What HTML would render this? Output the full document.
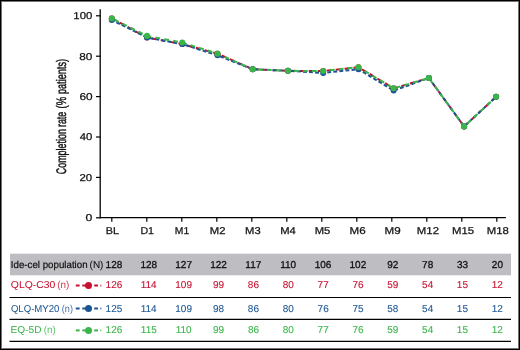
<!DOCTYPE html><html><head><meta charset="utf-8"><style>
html,body{margin:0;padding:0;background:#fff}
body{width:520px;height:350px;overflow:hidden;position:relative}
svg{position:absolute;left:0;top:0;will-change:transform}
text{font-family:"Liberation Sans",sans-serif;paint-order:stroke}
</style></head><body>
<svg width="520" height="350" viewBox="0 0 520 350">
<rect x="0" y="0" width="520" height="350" fill="#fff"/>

<line x1="100.2" y1="9.3" x2="100.2" y2="218.3" stroke="#000" stroke-width="1.3"/>
<line x1="99.5" y1="217.6" x2="505.9" y2="217.6" stroke="#000" stroke-width="1.3"/>
<line x1="96" y1="217.80" x2="100.5" y2="217.80" stroke="#000" stroke-width="1.2"/>
<text x="85.59" y="221.30" font-size="10.0" fill="#111111" stroke="#111111" textLength="6.79" lengthAdjust="spacingAndGlyphs" stroke-width="0.25" transform="matrix(1,0,0.0006,1.0,-0.1328,0.000)">0</text>
<line x1="96" y1="177.40" x2="100.5" y2="177.40" stroke="#000" stroke-width="1.2"/>
<text x="79.43" y="180.90" font-size="10.0" fill="#111111" stroke="#111111" textLength="12.70" lengthAdjust="spacingAndGlyphs" stroke-width="0.25" transform="matrix(1,0,0.0006,1.0,-0.1085,0.000)">20</text>
<line x1="96" y1="137.00" x2="100.5" y2="137.00" stroke="#000" stroke-width="1.2"/>
<text x="79.82" y="140.50" font-size="10.0" fill="#111111" stroke="#111111" textLength="12.61" lengthAdjust="spacingAndGlyphs" stroke-width="0.25" transform="matrix(1,0,0.0006,1.0,-0.0843,0.000)">40</text>
<line x1="96" y1="96.60" x2="100.5" y2="96.60" stroke="#000" stroke-width="1.2"/>
<text x="79.51" y="100.10" font-size="10.0" fill="#111111" stroke="#111111" textLength="13.13" lengthAdjust="spacingAndGlyphs" stroke-width="0.25" transform="matrix(1,0,0.0006,1.0,-0.0601,0.000)">60</text>
<line x1="96" y1="56.20" x2="100.5" y2="56.20" stroke="#000" stroke-width="1.2"/>
<text x="79.31" y="59.70" font-size="10.0" fill="#111111" stroke="#111111" textLength="13.13" lengthAdjust="spacingAndGlyphs" stroke-width="0.25" transform="matrix(1,0,0.0006,1.0,-0.0358,0.000)">80</text>
<line x1="96" y1="15.80" x2="100.5" y2="15.80" stroke="#000" stroke-width="1.2"/>
<text x="73.35" y="19.30" font-size="10.0" fill="#111111" stroke="#111111" textLength="18.95" lengthAdjust="spacingAndGlyphs" stroke-width="0.25" transform="matrix(1,0,0.0006,1.0,-0.0116,0.000)">100</text>
<line x1="111.80" y1="217.6" x2="111.80" y2="221.8" stroke="#000" stroke-width="1.2"/>
<text x="105.89" y="234.10" font-size="10.0" fill="#111111" stroke="#111111" textLength="13.27" lengthAdjust="spacingAndGlyphs" stroke-width="0.25" transform="matrix(1,0,0.0006,1.0,-0.1405,0.000)">BL</text>
<line x1="146.80" y1="217.6" x2="146.80" y2="221.8" stroke="#000" stroke-width="1.2"/>
<text x="140.40" y="234.10" font-size="10.0" fill="#111111" stroke="#111111" textLength="13.58" lengthAdjust="spacingAndGlyphs" stroke-width="0.25" transform="matrix(1,0,0.0006,1.0,-0.1405,0.000)">D1</text>
<line x1="181.80" y1="217.6" x2="181.80" y2="221.8" stroke="#000" stroke-width="1.2"/>
<text x="174.82" y="234.10" font-size="10.0" fill="#111111" stroke="#111111" textLength="14.40" lengthAdjust="spacingAndGlyphs" stroke-width="0.25" transform="matrix(1,0,0.0006,1.0,-0.1405,0.000)">M1</text>
<line x1="216.80" y1="217.6" x2="216.80" y2="221.8" stroke="#000" stroke-width="1.2"/>
<text x="209.75" y="234.10" font-size="10.0" fill="#111111" stroke="#111111" textLength="15.71" lengthAdjust="spacingAndGlyphs" stroke-width="0.25" transform="matrix(1,0,0.0006,1.0,-0.1405,0.000)">M2</text>
<line x1="251.80" y1="217.6" x2="251.80" y2="221.8" stroke="#000" stroke-width="1.2"/>
<text x="245.06" y="234.10" font-size="10.0" fill="#111111" stroke="#111111" textLength="15.60" lengthAdjust="spacingAndGlyphs" stroke-width="0.25" transform="matrix(1,0,0.0006,1.0,-0.1405,0.000)">M3</text>
<line x1="286.80" y1="217.6" x2="286.80" y2="221.8" stroke="#000" stroke-width="1.2"/>
<text x="280.16" y="234.10" font-size="10.0" fill="#111111" stroke="#111111" textLength="15.60" lengthAdjust="spacingAndGlyphs" stroke-width="0.25" transform="matrix(1,0,0.0006,1.0,-0.1405,0.000)">M4</text>
<line x1="321.80" y1="217.6" x2="321.80" y2="221.8" stroke="#000" stroke-width="1.2"/>
<text x="314.66" y="234.10" font-size="10.0" fill="#111111" stroke="#111111" textLength="15.60" lengthAdjust="spacingAndGlyphs" stroke-width="0.25" transform="matrix(1,0,0.0006,1.0,-0.1405,0.000)">M5</text>
<line x1="356.80" y1="217.6" x2="356.80" y2="221.8" stroke="#000" stroke-width="1.2"/>
<text x="349.63" y="234.10" font-size="10.0" fill="#111111" stroke="#111111" textLength="16.14" lengthAdjust="spacingAndGlyphs" stroke-width="0.25" transform="matrix(1,0,0.0006,1.0,-0.1405,0.000)">M6</text>
<line x1="391.80" y1="217.6" x2="391.80" y2="221.8" stroke="#000" stroke-width="1.2"/>
<text x="384.53" y="234.10" font-size="10.0" fill="#111111" stroke="#111111" textLength="16.14" lengthAdjust="spacingAndGlyphs" stroke-width="0.25" transform="matrix(1,0,0.0006,1.0,-0.1405,0.000)">M9</text>
<line x1="426.80" y1="217.6" x2="426.80" y2="221.8" stroke="#000" stroke-width="1.2"/>
<text x="416.85" y="234.10" font-size="10.0" fill="#111111" stroke="#111111" textLength="22.17" lengthAdjust="spacingAndGlyphs" stroke-width="0.25" transform="matrix(1,0,0.0006,1.0,-0.1405,0.000)">M12</text>
<line x1="461.80" y1="217.6" x2="461.80" y2="221.8" stroke="#000" stroke-width="1.2"/>
<text x="451.95" y="234.10" font-size="10.0" fill="#111111" stroke="#111111" textLength="22.06" lengthAdjust="spacingAndGlyphs" stroke-width="0.25" transform="matrix(1,0,0.0006,1.0,-0.1405,0.000)">M15</text>
<line x1="496.80" y1="217.6" x2="496.80" y2="221.8" stroke="#000" stroke-width="1.2"/>
<text x="486.75" y="234.10" font-size="10.0" fill="#111111" stroke="#111111" textLength="22.06" lengthAdjust="spacingAndGlyphs" stroke-width="0.25" transform="matrix(1,0,0.0006,1.0,-0.1405,0.000)">M18</text>
<text transform="translate(66,174.29) rotate(-90) skewX(0.04)" x="0" y="0" font-size="13.8" fill="#111111" stroke="#111111" stroke-width="0.45" textLength="45.20" lengthAdjust="spacingAndGlyphs">Completion</text>
<text transform="translate(66,127.04) rotate(-90) skewX(0.04)" x="0" y="0" font-size="13.8" fill="#111111" stroke="#111111" stroke-width="0.45" textLength="15.18" lengthAdjust="spacingAndGlyphs">rate</text>
<text transform="translate(66,108.51) rotate(-90) skewX(0.04)" x="0" y="0" font-size="13.8" fill="#111111" stroke="#111111" stroke-width="0.45" textLength="11.57" lengthAdjust="spacingAndGlyphs">(%</text>
<text transform="translate(66,94.06) rotate(-90) skewX(0.04)" x="0" y="0" font-size="13.8" fill="#111111" stroke="#111111" stroke-width="0.45" textLength="35.07" lengthAdjust="spacingAndGlyphs">patients)</text>
<path d="M111.80,18.39 L147.03,37.51 L182.26,44.11 L217.49,53.66 L252.72,69.25 L287.95,70.84 L323.18,71.01 L358.41,67.20 L393.64,88.37 L428.87,77.97 L464.10,126.47 L496.10,96.80" fill="none" stroke="#c8102e" stroke-width="2" stroke-dasharray="4.8 4.2" stroke-dashoffset="0"/>
<path d="M111.80,19.98 L147.03,37.51 L182.26,44.11 L217.49,55.33 L252.72,69.25 L287.95,70.84 L323.18,72.94 L358.41,69.20 L393.64,90.59 L428.87,77.97 L464.10,126.47 L496.10,96.80" fill="none" stroke="#1b5592" stroke-width="2" stroke-dasharray="3.9 2.2" stroke-dashoffset="1.0"/>
<path d="M111.80,18.39 L147.03,35.92 L182.26,42.51 L217.49,53.66 L252.72,69.25 L287.95,70.84 L323.18,71.01 L358.41,67.20 L393.64,88.37 L428.87,77.97 L464.10,126.47 L496.10,96.80" fill="none" stroke="#3ab54a" stroke-width="2" stroke-dasharray="4.8 4.2" stroke-dashoffset="-2.9"/>
<circle cx="111.80" cy="18.39" r="3.0" fill="#c8102e"/><circle cx="147.03" cy="37.51" r="3.0" fill="#c8102e"/><circle cx="182.26" cy="44.11" r="3.0" fill="#c8102e"/><circle cx="217.49" cy="53.66" r="3.0" fill="#c8102e"/><circle cx="252.72" cy="69.25" r="3.0" fill="#c8102e"/><circle cx="287.95" cy="70.84" r="3.0" fill="#c8102e"/><circle cx="323.18" cy="71.01" r="3.0" fill="#c8102e"/><circle cx="358.41" cy="67.20" r="3.0" fill="#c8102e"/><circle cx="393.64" cy="88.37" r="3.0" fill="#c8102e"/><circle cx="428.87" cy="77.97" r="3.0" fill="#c8102e"/><circle cx="464.10" cy="126.47" r="3.0" fill="#c8102e"/><circle cx="496.10" cy="96.80" r="3.0" fill="#c8102e"/>
<circle cx="111.80" cy="19.98" r="3.0" fill="#1b5592"/><circle cx="147.03" cy="37.51" r="3.0" fill="#1b5592"/><circle cx="182.26" cy="44.11" r="3.0" fill="#1b5592"/><circle cx="217.49" cy="55.33" r="3.0" fill="#1b5592"/><circle cx="252.72" cy="69.25" r="3.0" fill="#1b5592"/><circle cx="287.95" cy="70.84" r="3.0" fill="#1b5592"/><circle cx="323.18" cy="72.94" r="3.0" fill="#1b5592"/><circle cx="358.41" cy="69.20" r="3.0" fill="#1b5592"/><circle cx="393.64" cy="90.59" r="3.0" fill="#1b5592"/><circle cx="428.87" cy="77.97" r="3.0" fill="#1b5592"/><circle cx="464.10" cy="126.47" r="3.0" fill="#1b5592"/><circle cx="496.10" cy="96.80" r="3.0" fill="#1b5592"/>
<circle cx="111.80" cy="18.39" r="3.05" fill="#3ab54a"/><circle cx="147.03" cy="35.92" r="3.05" fill="#3ab54a"/><circle cx="182.26" cy="42.51" r="3.05" fill="#3ab54a"/><circle cx="217.49" cy="53.66" r="3.05" fill="#3ab54a"/><circle cx="252.72" cy="69.25" r="3.05" fill="#3ab54a"/><circle cx="287.95" cy="70.84" r="3.05" fill="#3ab54a"/><circle cx="323.18" cy="71.01" r="3.05" fill="#3ab54a"/><circle cx="358.41" cy="67.20" r="3.05" fill="#3ab54a"/><circle cx="393.64" cy="88.37" r="3.05" fill="#3ab54a"/><circle cx="428.87" cy="77.97" r="3.05" fill="#3ab54a"/><circle cx="464.10" cy="126.47" r="3.05" fill="#3ab54a"/><circle cx="496.10" cy="96.80" r="3.05" fill="#3ab54a"/>
<rect x="10" y="253.7" width="501" height="21.6" fill="#bebdc2"/>
<line x1="9.5" y1="297.5" x2="511" y2="297.5" stroke="#000" stroke-width="1.2"/>
<line x1="9.5" y1="319.4" x2="511" y2="319.4" stroke="#000" stroke-width="1.2"/>
<line x1="9.5" y1="341.3" x2="511" y2="341.3" stroke="#000" stroke-width="1.2"/>
<text x="10.83" y="267.70" font-size="10.0" fill="#111111" stroke="#111111" textLength="76.76" lengthAdjust="spacingAndGlyphs" stroke-width="0.22" transform="matrix(1,0,0.0006,1.0,-0.1606,0.000)">Ide-cel population</text>
<text x="89.55" y="267.70" font-size="10.0" fill="#111111" stroke="#111111" textLength="13.89" lengthAdjust="spacingAndGlyphs" stroke-width="0.1" transform="matrix(1,0,0.0006,1.0,-0.1606,0.000)">(N)</text>
<text x="105.60" y="267.70" font-size="10.0" fill="#111111" stroke="#111111" textLength="16.69" lengthAdjust="spacingAndGlyphs" stroke-width="0.3" transform="matrix(1,0,0.0006,1.0,-0.1606,0.000)">128</text>
<text x="140.45" y="267.70" font-size="10.0" fill="#111111" stroke="#111111" textLength="16.69" lengthAdjust="spacingAndGlyphs" stroke-width="0.3" transform="matrix(1,0,0.0006,1.0,-0.1606,0.000)">128</text>
<text x="175.30" y="267.70" font-size="10.0" fill="#111111" stroke="#111111" textLength="16.69" lengthAdjust="spacingAndGlyphs" stroke-width="0.3" transform="matrix(1,0,0.0006,1.0,-0.1606,0.000)">127</text>
<text x="210.15" y="267.70" font-size="10.0" fill="#111111" stroke="#111111" textLength="16.69" lengthAdjust="spacingAndGlyphs" stroke-width="0.3" transform="matrix(1,0,0.0006,1.0,-0.1606,0.000)">122</text>
<text x="245.38" y="267.70" font-size="10.0" fill="#111111" stroke="#111111" textLength="15.95" lengthAdjust="spacingAndGlyphs" stroke-width="0.3" transform="matrix(1,0,0.0006,1.0,-0.1606,0.000)">117</text>
<text x="280.23" y="267.70" font-size="10.0" fill="#111111" stroke="#111111" textLength="15.95" lengthAdjust="spacingAndGlyphs" stroke-width="0.3" transform="matrix(1,0,0.0006,1.0,-0.1606,0.000)">110</text>
<text x="314.70" y="267.70" font-size="10.0" fill="#111111" stroke="#111111" textLength="16.69" lengthAdjust="spacingAndGlyphs" stroke-width="0.3" transform="matrix(1,0,0.0006,1.0,-0.1606,0.000)">106</text>
<text x="349.55" y="267.70" font-size="10.0" fill="#111111" stroke="#111111" textLength="16.69" lengthAdjust="spacingAndGlyphs" stroke-width="0.3" transform="matrix(1,0,0.0006,1.0,-0.1606,0.000)">102</text>
<text x="387.27" y="267.70" font-size="10.0" fill="#111111" stroke="#111111" textLength="11.12" lengthAdjust="spacingAndGlyphs" stroke-width="0.3" transform="matrix(1,0,0.0006,1.0,-0.1606,0.000)">92</text>
<text x="422.12" y="267.70" font-size="10.0" fill="#111111" stroke="#111111" textLength="11.12" lengthAdjust="spacingAndGlyphs" stroke-width="0.3" transform="matrix(1,0,0.0006,1.0,-0.1606,0.000)">78</text>
<text x="456.98" y="267.70" font-size="10.0" fill="#111111" stroke="#111111" textLength="11.12" lengthAdjust="spacingAndGlyphs" stroke-width="0.3" transform="matrix(1,0,0.0006,1.0,-0.1606,0.000)">33</text>
<text x="491.83" y="267.70" font-size="10.0" fill="#111111" stroke="#111111" textLength="11.12" lengthAdjust="spacingAndGlyphs" stroke-width="0.3" transform="matrix(1,0,0.0006,1.0,-0.1606,0.000)">20</text>
<text x="10.88" y="288.30" font-size="10.0" fill="#c8102e" stroke="#c8102e" textLength="44.53" lengthAdjust="spacingAndGlyphs" stroke-width="0.05" transform="matrix(1,0,0.0006,1.0,-0.1730,0.000)">QLQ-C30</text>
<text x="57.26" y="288.30" font-size="10.0" fill="#c8102e" stroke="#c8102e" textLength="12.06" lengthAdjust="spacingAndGlyphs" stroke-width="0" fill-opacity="0.85" transform="matrix(1,0,0.0006,1.0,-0.1730,0.000)">(n)</text>
<text x="105.60" y="288.30" font-size="10.0" fill="#c8102e" stroke="#c8102e" textLength="16.69" lengthAdjust="spacingAndGlyphs" stroke-width="0.1" transform="matrix(1,0,0.0006,1.0,-0.1730,0.000)">126</text>
<text x="140.70" y="288.30" font-size="10.0" fill="#c8102e" stroke="#c8102e" textLength="15.95" lengthAdjust="spacingAndGlyphs" stroke-width="0.1" transform="matrix(1,0,0.0006,1.0,-0.1730,0.000)">114</text>
<text x="175.30" y="288.30" font-size="10.0" fill="#c8102e" stroke="#c8102e" textLength="16.69" lengthAdjust="spacingAndGlyphs" stroke-width="0.1" transform="matrix(1,0,0.0006,1.0,-0.1730,0.000)">109</text>
<text x="213.03" y="288.30" font-size="10.0" fill="#c8102e" stroke="#c8102e" textLength="11.12" lengthAdjust="spacingAndGlyphs" stroke-width="0.1" transform="matrix(1,0,0.0006,1.0,-0.1730,0.000)">99</text>
<text x="247.88" y="288.30" font-size="10.0" fill="#c8102e" stroke="#c8102e" textLength="11.12" lengthAdjust="spacingAndGlyphs" stroke-width="0.1" transform="matrix(1,0,0.0006,1.0,-0.1730,0.000)">86</text>
<text x="282.73" y="288.30" font-size="10.0" fill="#c8102e" stroke="#c8102e" textLength="11.12" lengthAdjust="spacingAndGlyphs" stroke-width="0.1" transform="matrix(1,0,0.0006,1.0,-0.1730,0.000)">80</text>
<text x="317.58" y="288.30" font-size="10.0" fill="#c8102e" stroke="#c8102e" textLength="11.12" lengthAdjust="spacingAndGlyphs" stroke-width="0.1" transform="matrix(1,0,0.0006,1.0,-0.1730,0.000)">77</text>
<text x="352.43" y="288.30" font-size="10.0" fill="#c8102e" stroke="#c8102e" textLength="11.12" lengthAdjust="spacingAndGlyphs" stroke-width="0.1" transform="matrix(1,0,0.0006,1.0,-0.1730,0.000)">76</text>
<text x="387.27" y="288.30" font-size="10.0" fill="#c8102e" stroke="#c8102e" textLength="11.12" lengthAdjust="spacingAndGlyphs" stroke-width="0.1" transform="matrix(1,0,0.0006,1.0,-0.1730,0.000)">59</text>
<text x="422.12" y="288.30" font-size="10.0" fill="#c8102e" stroke="#c8102e" textLength="11.12" lengthAdjust="spacingAndGlyphs" stroke-width="0.1" transform="matrix(1,0,0.0006,1.0,-0.1730,0.000)">54</text>
<text x="456.85" y="288.30" font-size="10.0" fill="#c8102e" stroke="#c8102e" textLength="11.12" lengthAdjust="spacingAndGlyphs" stroke-width="0.1" transform="matrix(1,0,0.0006,1.0,-0.1730,0.000)">15</text>
<text x="491.70" y="288.30" font-size="10.0" fill="#c8102e" stroke="#c8102e" textLength="11.12" lengthAdjust="spacingAndGlyphs" stroke-width="0.1" transform="matrix(1,0,0.0006,1.0,-0.1730,0.000)">12</text>
<rect x="75.8" y="284.5" width="3.80" height="2" fill="#c8102e"/>
<rect x="82.3" y="284.5" width="4.20" height="2" fill="#c8102e"/>
<rect x="94.2" y="284.5" width="3.80" height="2" fill="#c8102e"/>
<circle cx="88.5" cy="285.5" r="3.5" fill="#c8102e"/>
<rect x="100.4" y="284.6" width="0.9" height="1.8" fill="#c8102e"/>
<text x="10.92" y="311.70" font-size="10.0" fill="#1b5592" stroke="#1b5592" textLength="48.49" lengthAdjust="spacingAndGlyphs" stroke-width="0.05" transform="matrix(1,0,0.0006,1.0,-0.1870,0.000)">QLQ-MY20</text>
<text x="61.82" y="311.70" font-size="10.0" fill="#1b5592" stroke="#1b5592" textLength="11.15" lengthAdjust="spacingAndGlyphs" stroke-width="0" fill-opacity="0.85" transform="matrix(1,0,0.0006,1.0,-0.1870,0.000)">(n)</text>
<text x="105.60" y="311.70" font-size="10.0" fill="#1b5592" stroke="#1b5592" textLength="16.69" lengthAdjust="spacingAndGlyphs" stroke-width="0.1" transform="matrix(1,0,0.0006,1.0,-0.1870,0.000)">125</text>
<text x="140.70" y="311.70" font-size="10.0" fill="#1b5592" stroke="#1b5592" textLength="15.95" lengthAdjust="spacingAndGlyphs" stroke-width="0.1" transform="matrix(1,0,0.0006,1.0,-0.1870,0.000)">114</text>
<text x="175.30" y="311.70" font-size="10.0" fill="#1b5592" stroke="#1b5592" textLength="16.69" lengthAdjust="spacingAndGlyphs" stroke-width="0.1" transform="matrix(1,0,0.0006,1.0,-0.1870,0.000)">109</text>
<text x="213.03" y="311.70" font-size="10.0" fill="#1b5592" stroke="#1b5592" textLength="11.12" lengthAdjust="spacingAndGlyphs" stroke-width="0.1" transform="matrix(1,0,0.0006,1.0,-0.1870,0.000)">98</text>
<text x="247.88" y="311.70" font-size="10.0" fill="#1b5592" stroke="#1b5592" textLength="11.12" lengthAdjust="spacingAndGlyphs" stroke-width="0.1" transform="matrix(1,0,0.0006,1.0,-0.1870,0.000)">86</text>
<text x="282.73" y="311.70" font-size="10.0" fill="#1b5592" stroke="#1b5592" textLength="11.12" lengthAdjust="spacingAndGlyphs" stroke-width="0.1" transform="matrix(1,0,0.0006,1.0,-0.1870,0.000)">80</text>
<text x="317.58" y="311.70" font-size="10.0" fill="#1b5592" stroke="#1b5592" textLength="11.12" lengthAdjust="spacingAndGlyphs" stroke-width="0.1" transform="matrix(1,0,0.0006,1.0,-0.1870,0.000)">76</text>
<text x="352.43" y="311.70" font-size="10.0" fill="#1b5592" stroke="#1b5592" textLength="11.12" lengthAdjust="spacingAndGlyphs" stroke-width="0.1" transform="matrix(1,0,0.0006,1.0,-0.1870,0.000)">75</text>
<text x="387.27" y="311.70" font-size="10.0" fill="#1b5592" stroke="#1b5592" textLength="11.12" lengthAdjust="spacingAndGlyphs" stroke-width="0.1" transform="matrix(1,0,0.0006,1.0,-0.1870,0.000)">58</text>
<text x="422.12" y="311.70" font-size="10.0" fill="#1b5592" stroke="#1b5592" textLength="11.12" lengthAdjust="spacingAndGlyphs" stroke-width="0.1" transform="matrix(1,0,0.0006,1.0,-0.1870,0.000)">54</text>
<text x="456.85" y="311.70" font-size="10.0" fill="#1b5592" stroke="#1b5592" textLength="11.12" lengthAdjust="spacingAndGlyphs" stroke-width="0.1" transform="matrix(1,0,0.0006,1.0,-0.1870,0.000)">15</text>
<text x="491.70" y="311.70" font-size="10.0" fill="#1b5592" stroke="#1b5592" textLength="11.12" lengthAdjust="spacingAndGlyphs" stroke-width="0.1" transform="matrix(1,0,0.0006,1.0,-0.1870,0.000)">12</text>
<rect x="75.8" y="307.5" width="3.80" height="2" fill="#1b5592"/>
<rect x="82.3" y="307.5" width="4.20" height="2" fill="#1b5592"/>
<rect x="94.2" y="307.5" width="3.80" height="2" fill="#1b5592"/>
<circle cx="88.5" cy="308.5" r="3.5" fill="#1b5592"/>
<rect x="100.4" y="307.6" width="0.9" height="1.8" fill="#1b5592"/>
<text x="10.64" y="333.40" font-size="10.0" fill="#3ab54a" stroke="#3ab54a" textLength="30.93" lengthAdjust="spacingAndGlyphs" stroke-width="0.05" transform="matrix(1,0,0.0006,1.0,-0.2000,0.000)">EQ-5D</text>
<text x="43.87" y="333.40" font-size="10.0" fill="#3ab54a" stroke="#3ab54a" textLength="11.95" lengthAdjust="spacingAndGlyphs" stroke-width="0" fill-opacity="0.85" transform="matrix(1,0,0.0006,1.0,-0.2000,0.000)">(n)</text>
<text x="105.60" y="333.40" font-size="10.0" fill="#3ab54a" stroke="#3ab54a" textLength="16.69" lengthAdjust="spacingAndGlyphs" stroke-width="0.1" transform="matrix(1,0,0.0006,1.0,-0.2000,0.000)">126</text>
<text x="140.82" y="333.40" font-size="10.0" fill="#3ab54a" stroke="#3ab54a" textLength="15.95" lengthAdjust="spacingAndGlyphs" stroke-width="0.1" transform="matrix(1,0,0.0006,1.0,-0.2000,0.000)">115</text>
<text x="175.68" y="333.40" font-size="10.0" fill="#3ab54a" stroke="#3ab54a" textLength="15.95" lengthAdjust="spacingAndGlyphs" stroke-width="0.1" transform="matrix(1,0,0.0006,1.0,-0.2000,0.000)">110</text>
<text x="213.03" y="333.40" font-size="10.0" fill="#3ab54a" stroke="#3ab54a" textLength="11.12" lengthAdjust="spacingAndGlyphs" stroke-width="0.1" transform="matrix(1,0,0.0006,1.0,-0.2000,0.000)">99</text>
<text x="247.88" y="333.40" font-size="10.0" fill="#3ab54a" stroke="#3ab54a" textLength="11.12" lengthAdjust="spacingAndGlyphs" stroke-width="0.1" transform="matrix(1,0,0.0006,1.0,-0.2000,0.000)">86</text>
<text x="282.73" y="333.40" font-size="10.0" fill="#3ab54a" stroke="#3ab54a" textLength="11.12" lengthAdjust="spacingAndGlyphs" stroke-width="0.1" transform="matrix(1,0,0.0006,1.0,-0.2000,0.000)">80</text>
<text x="317.58" y="333.40" font-size="10.0" fill="#3ab54a" stroke="#3ab54a" textLength="11.12" lengthAdjust="spacingAndGlyphs" stroke-width="0.1" transform="matrix(1,0,0.0006,1.0,-0.2000,0.000)">77</text>
<text x="352.43" y="333.40" font-size="10.0" fill="#3ab54a" stroke="#3ab54a" textLength="11.12" lengthAdjust="spacingAndGlyphs" stroke-width="0.1" transform="matrix(1,0,0.0006,1.0,-0.2000,0.000)">76</text>
<text x="387.27" y="333.40" font-size="10.0" fill="#3ab54a" stroke="#3ab54a" textLength="11.12" lengthAdjust="spacingAndGlyphs" stroke-width="0.1" transform="matrix(1,0,0.0006,1.0,-0.2000,0.000)">59</text>
<text x="422.12" y="333.40" font-size="10.0" fill="#3ab54a" stroke="#3ab54a" textLength="11.12" lengthAdjust="spacingAndGlyphs" stroke-width="0.1" transform="matrix(1,0,0.0006,1.0,-0.2000,0.000)">54</text>
<text x="456.85" y="333.40" font-size="10.0" fill="#3ab54a" stroke="#3ab54a" textLength="11.12" lengthAdjust="spacingAndGlyphs" stroke-width="0.1" transform="matrix(1,0,0.0006,1.0,-0.2000,0.000)">15</text>
<text x="491.70" y="333.40" font-size="10.0" fill="#3ab54a" stroke="#3ab54a" textLength="11.12" lengthAdjust="spacingAndGlyphs" stroke-width="0.1" transform="matrix(1,0,0.0006,1.0,-0.2000,0.000)">12</text>
<rect x="75.8" y="329.4" width="3.80" height="2" fill="#3ab54a"/>
<rect x="82.3" y="329.4" width="4.20" height="2" fill="#3ab54a"/>
<rect x="94.2" y="329.4" width="3.80" height="2" fill="#3ab54a"/>
<circle cx="88.5" cy="330.4" r="3.5" fill="#3ab54a"/>
<rect x="100.4" y="329.5" width="0.9" height="1.8" fill="#3ab54a"/>
<rect x="0.5" y="0.5" width="519" height="349" fill="none" stroke="#000" stroke-width="1"/>
<rect x="1.5" y="1.5" width="517" height="347" fill="none" stroke="rgba(0,0,0,0.55)" stroke-width="1"/>
</svg></body></html>
